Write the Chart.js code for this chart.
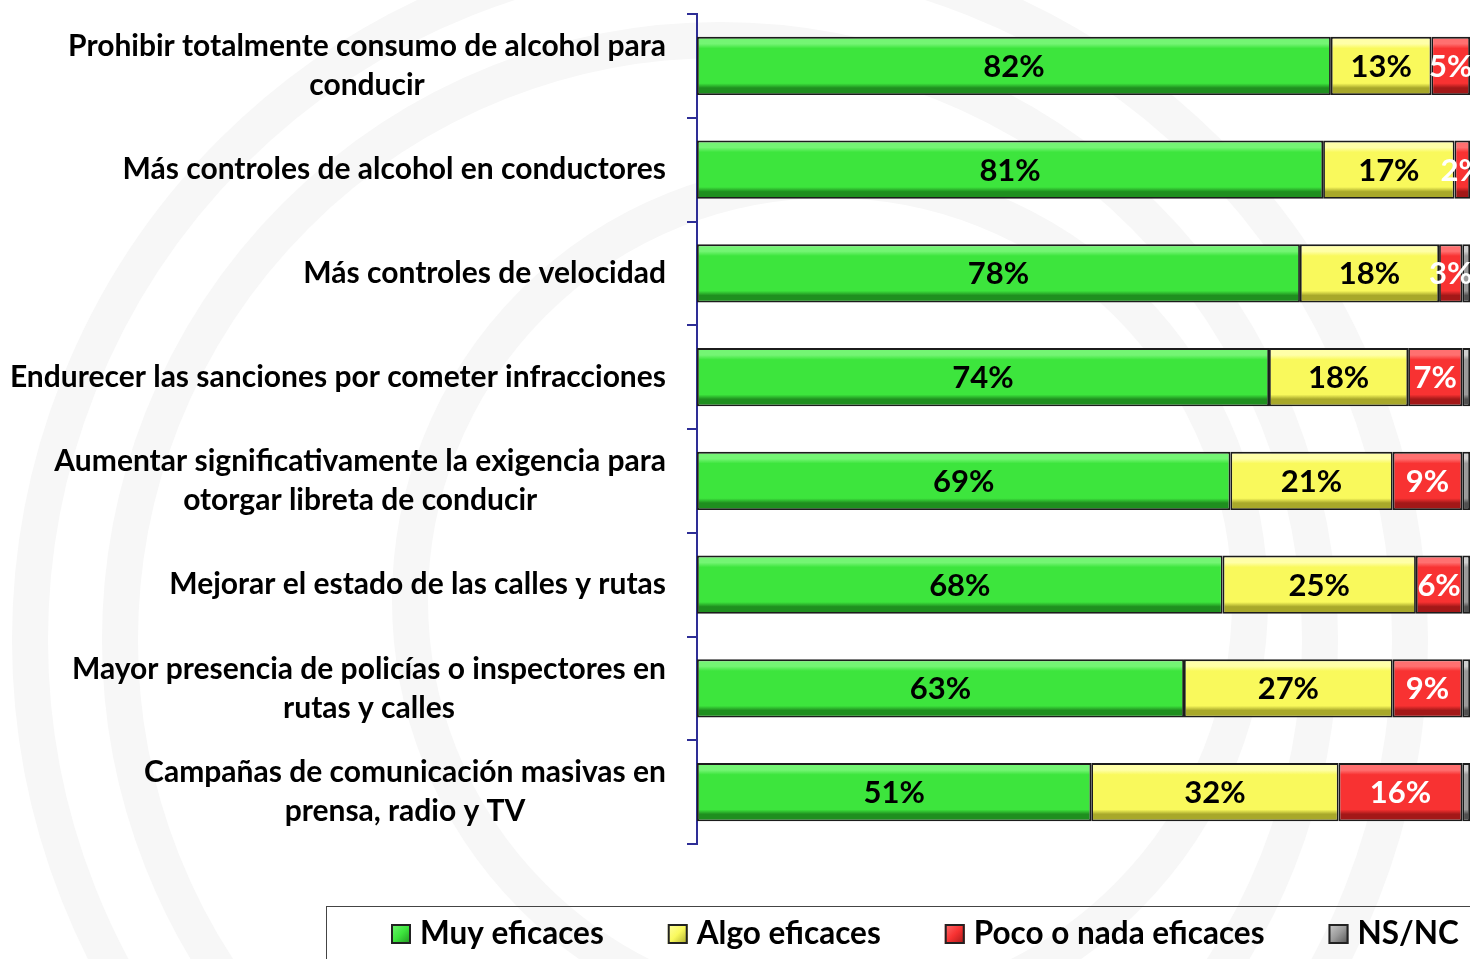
<!DOCTYPE html>
<html>
<head>
<meta charset="utf-8">
<script src="https://cdn.jsdelivr.net/npm/chart.js@4.4.1/dist/chart.umd.min.js"></script>
<style>
  html, body { margin: 0; padding: 0; background: #fff; }
  #wrap { width: 1470px; height: 959px; position: relative; }
</style>
</head>
<body>
<div id="wrap"><canvas id="chart" width="1470" height="959"></canvas></div>
<script>
const categories = [
  ["Prohibir totalmente consumo de alcohol para", "conducir"],
  ["Más controles de alcohol en conductores"],
  ["Más controles de velocidad"],
  ["Endurecer las sanciones por cometer infracciones"],
  ["Aumentar significativamente la exigencia para", "otorgar libreta de conducir"],
  ["Mejorar el estado de las calles y rutas"],
  ["Mayor presencia de policías o inspectores en", "rutas y calles"],
  ["Campañas de comunicación masivas en", "prensa, radio y TV"],
];
const muyEficaces = [82, 81, 78, 74, 69, 68, 63, 51];
const algoEficaces = [13, 17, 18, 18, 21, 25, 27, 32];
const pocoEficaces = [5, 2, 3, 7, 9, 6, 9, 16];
const nsnc = [0, 0, 1, 1, 1, 1, 1, 1];

const seriesNames = ["Muy eficaces", "Algo eficaces", "Poco o nada eficaces", "NS/NC"];
// light / base / dark shades for the bevel look
const shades = [
  ["#74f574", "#3de53d", "#1f8f1f"],
  ["#ffffa8", "#f9f95c", "#a8a82a"],
  ["#ff7070", "#f83232", "#a31818"],
  ["#cfcfcf", "#9a9a9a", "#505050"],
];
const labelColors = ["#000", "#000", "#fff", null];

const FONT = "Lato, 'Open Sans', sans-serif";
const BAR_PCT = 0.56;

function barFill(i) {
  return (ctx) => {
    const chart = ctx.chart;
    const y = chart.scales.y;
    if (!y || ctx.dataIndex === undefined) return shades[i][1];
    const yc = y.getPixelForValue(ctx.dataIndex);
    const h = (y.height / categories.length) * BAR_PCT;
    if (!isFinite(yc) || !isFinite(h) || h <= 0) return shades[i][1];
    const g = chart.ctx.createLinearGradient(0, yc - h / 2, 0, yc + h / 2);
    const [light, base, dark] = shades[i];
    g.addColorStop(0, light);
    g.addColorStop(0.12, light);
    g.addColorStop(0.2, base);
    g.addColorStop(0.8, base);
    g.addColorStop(0.88, dark);
    g.addColorStop(1, dark);
    return g;
  };
}

const watermark = {
  id: "watermark",
  beforeDraw(chart) {
    const c = chart.ctx;
    c.save();
    c.fillStyle = "#fff";
    c.fillRect(0, 0, chart.width, chart.height);
    c.strokeStyle = "#f7f7f7";
    c.lineWidth = 36;
    [[720, 640, 690], [720, 640, 600], [830, 600, 420]].forEach(([x, y, r]) => {
      c.beginPath();
      c.arc(x, y, r, 0, Math.PI * 2);
      c.stroke();
    });
    c.restore();
  },
};

const catLabels = {
  id: "catLabels",
  afterDraw(chart) {
    const c = chart.ctx;
    const y = chart.scales.y;
    const right = y.right - 31;
    c.save();
    c.font = "bold 30px " + FONT;
    c.fillStyle = "#000";
    c.textAlign = "center";
    c.textBaseline = "middle";
    categories.forEach((lines, i) => {
      const yc = y.getPixelForTick(i);
      const widest = Math.max(...lines.map((l) => c.measureText(l).width));
      const cx = right - widest / 2;
      lines.forEach((l, j) => {
        c.fillText(l, cx, yc + (j - (lines.length - 1) / 2) * 39);
      });
    });
    c.restore();
  },
};

const valueLabels = {
  id: "valueLabels",
  afterDatasetsDraw(chart) {
    const c = chart.ctx;
    c.save();
    c.font = "bold 31px " + FONT;
    c.textAlign = "center";
    c.textBaseline = "middle";
    chart.data.datasets.forEach((ds, i) => {
      if (!labelColors[i]) return;
      c.fillStyle = labelColors[i];
      chart.getDatasetMeta(i).data.forEach((bar, j) => {
        const v = ds.data[j];
        if (!v) return;
        c.fillText(v + "%", (bar.x + bar.base) / 2, bar.y + 1);
      });
    });
    c.restore();
  },
};

const legendBox = {
  id: "legendBox",
  afterDraw(chart) {
    const c = chart.ctx;
    c.save();
    c.strokeStyle = "#444";
    c.lineWidth = 1;
    c.strokeRect(326.5, 906.5, 1300, 200);
    c.font = "bold 31.5px " + FONT;
    c.textBaseline = "middle";
    c.textAlign = "left";
    let x = 391;
    const yc = 934;
    seriesNames.forEach((name, i) => {
      const [light, base, dark] = shades[i];
      const g = c.createLinearGradient(x, yc - 10, x + 20, yc + 10);
      g.addColorStop(0, light);
      g.addColorStop(0.5, base);
      g.addColorStop(1, dark);
      c.fillStyle = g;
      c.fillRect(x, yc - 10, 20, 20);
      c.strokeStyle = "#222";
      c.lineWidth = 2;
      c.strokeRect(x + 1, yc - 9, 18, 18);
      c.fillStyle = "#000";
      c.fillText(name, x + 29, yc);
      x += 29 + c.measureText(name).width + 64;
    });
    c.restore();
  },
};

const datasets = [muyEficaces, algoEficaces, pocoEficaces, nsnc].map((data, i) => ({
  label: seriesNames[i],
  data: data,
  backgroundColor: barFill(i),
  borderColor: "#1c1c1c",
  borderWidth: 1.8,
  borderSkipped: false,
  barPercentage: BAR_PCT,
  categoryPercentage: 1,
}));

new Chart(document.getElementById("chart"), {
  type: "bar",
  data: { labels: categories.map((l) => l.join(" ")), datasets: datasets },
  options: {
    indexAxis: "y",
    responsive: false,
    animation: false,
    layout: { padding: { top: 14, bottom: 115, left: 0, right: 0 } },
    plugins: { legend: { display: false }, tooltip: { enabled: false } },
    scales: {
      x: { stacked: true, min: 0, max: 100, display: false },
      y: {
        stacked: true,
        afterFit(scale) { scale.width = 697; },
        ticks: { display: false },
        border: { display: true, color: "#2e2e96", width: 2 },
        grid: {
          drawOnChartArea: false,
          drawTicks: true,
          tickLength: 10,
          color: "#2e2e96",
          lineWidth: 2,
          offset: true,
        },
      },
    },
  },
  plugins: [watermark, catLabels, valueLabels, legendBox],
});
</script>
</body>
</html>
